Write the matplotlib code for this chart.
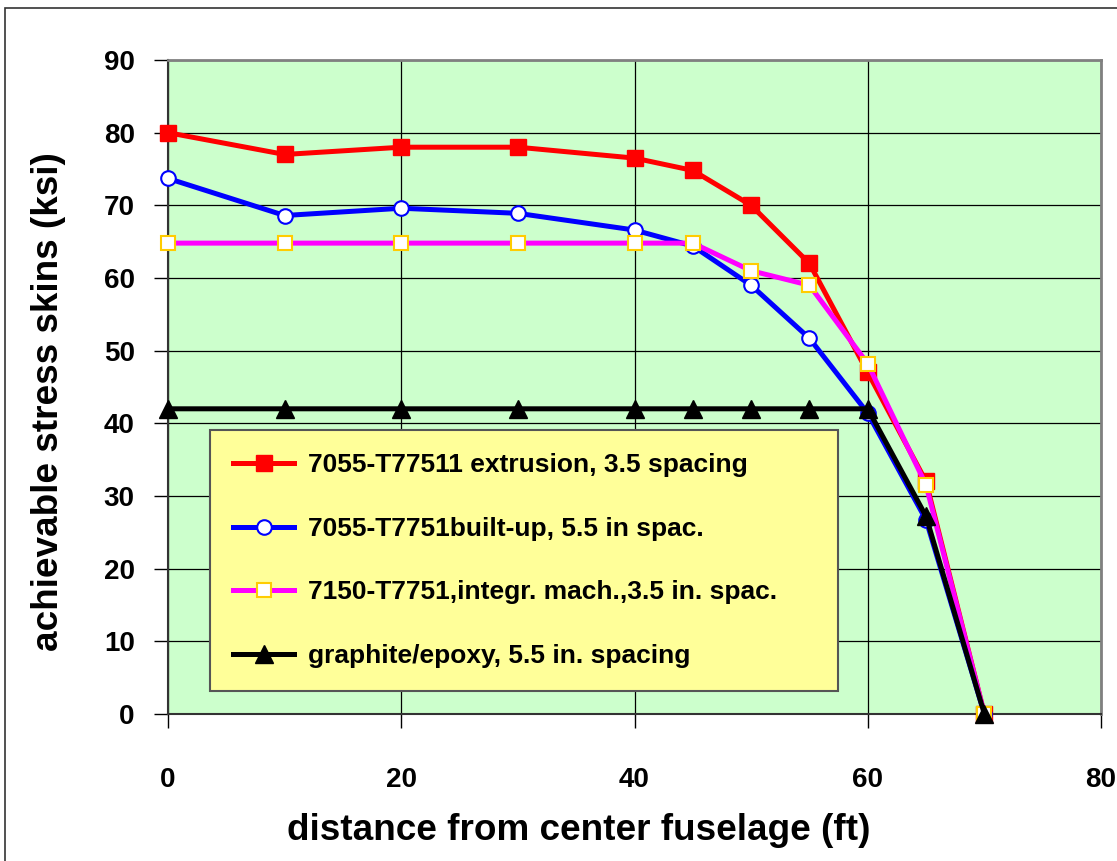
import matplotlib
matplotlib.use("Agg")
import matplotlib.pyplot as plt
from matplotlib.patches import Rectangle

plt.rcParams['font.family'] = ['Liberation Sans', 'DejaVu Sans']
plt.rcParams['font.weight'] = 'bold'

x_full = [0, 10, 20, 30, 40, 45, 50, 55, 60, 65, 70]
red_vals = [80, 77, 78, 78, 76.5, 74.8, 70, 62, 47, 32, 0]
blue_vals = [73.7, 68.6, 69.6, 68.9, 66.6, 64.4, 59, 51.7, 41.4, 26.7, 0]
mag_vals = [64.8, 64.8, 64.8, 64.8, 64.8, 64.8, 61, 59, 48.2, 31.5, 0]
blk_vals = [42, 42, 42, 42, 42, 42, 42, 42, 42, 27.2, 0]

labels = ["7055-T77511 extrusion, 3.5 spacing",
          "7055-T7751built-up, 5.5 in spac.",
          "7150-T7751,integr. mach.,3.5 in. spac.",
          "graphite/epoxy, 5.5 in. spacing"]
x_ticks = [0, 20, 40, 60, 80]
y_ticks = [0, 10, 20, 30, 40, 50, 60, 70, 80, 90]

fig = plt.figure(figsize=(11.17, 8.61), dpi=100)
ax = fig.add_axes([168/1117, 1-714/861, (1101-168)/1117, (714-60)/861])
ax.set_facecolor('#CCFFCC')

lw = 3.6
ax.plot(x_full, red_vals, color='#FF0000', lw=lw, marker='s', ms=11,
        mfc='#FF0000', mec='#FF0000', label=labels[0], clip_on=False, zorder=3)
ax.plot(x_full, blue_vals, color='#0000FF', lw=lw, marker='o', ms=10.5,
        mfc='white', mec='#0000FF', mew=1.5, label=labels[1], clip_on=False, zorder=4)
ax.plot(x_full, mag_vals, color='#FF00FF', lw=lw, marker='s', ms=10,
        mfc='white', mec='#FFCC00', mew=1.5, label=labels[2], clip_on=False, zorder=5)
ax.plot(x_full, blk_vals, color='#000000', lw=lw, marker='^', ms=13,
        mfc='#000000', mec='#000000', label=labels[3], clip_on=False, zorder=6)

ax.set_xlim(0, 80)
ax.set_ylim(0, 90)
ax.set_xticks(x_ticks)
ax.set_yticks(y_ticks)
ax.grid(True, color='black', lw=0.9)
ax.set_axisbelow(True)
ax.tick_params(axis='both', direction='out', length=10, width=1, color='black',
               labelsize=20)
ax.tick_params(axis='x', pad=28)
ax.tick_params(axis='y', pad=14)
for lbl in ax.get_xticklabels() + ax.get_yticklabels():
    lbl.set_fontweight('bold')

for s in ['top', 'right']:
    ax.spines[s].set_color('#808080')
    ax.spines[s].set_linewidth(2)
for s in ['left', 'bottom']:
    ax.spines[s].set_color('#333333')
    ax.spines[s].set_linewidth(1.5)

ax.set_xlabel('distance from center fuselage (ft)', fontsize=26.6, fontweight='bold')
ax.set_ylabel('achievable stress skins (ksi)', fontsize=26.6, fontweight='bold')
ax.xaxis.set_label_coords((579-168)/933, (714-830)/654)
ax.yaxis.set_label_coords((48-168)/933, (714-402)/654)
ax.xaxis.label.set_va('center')
ax.yaxis.label.set_va('center')

leg = ax.legend(loc='upper left',
                bbox_to_anchor=((210-168)/933, (714-430)/654, (838-210)/933, 0.0),
                mode='expand', prop={'weight': 'bold', 'size': 19},
                handlelength=2.3, handletextpad=0.55, labelspacing=1.5,
                borderpad=0.88, borderaxespad=0, fancybox=False, frameon=True,
                framealpha=1)
leg.get_frame().set_facecolor('#FFFF99')
leg.get_frame().set_edgecolor('#555555')
leg.get_frame().set_linewidth(1.5)

fig.patches.append(Rectangle((5/1117, -0.1), 1.2, 1-8/861+0.1, transform=fig.transFigure,
                             fill=False, edgecolor='#333333', lw=1.2))

fig.savefig('out.png', dpi=100)
